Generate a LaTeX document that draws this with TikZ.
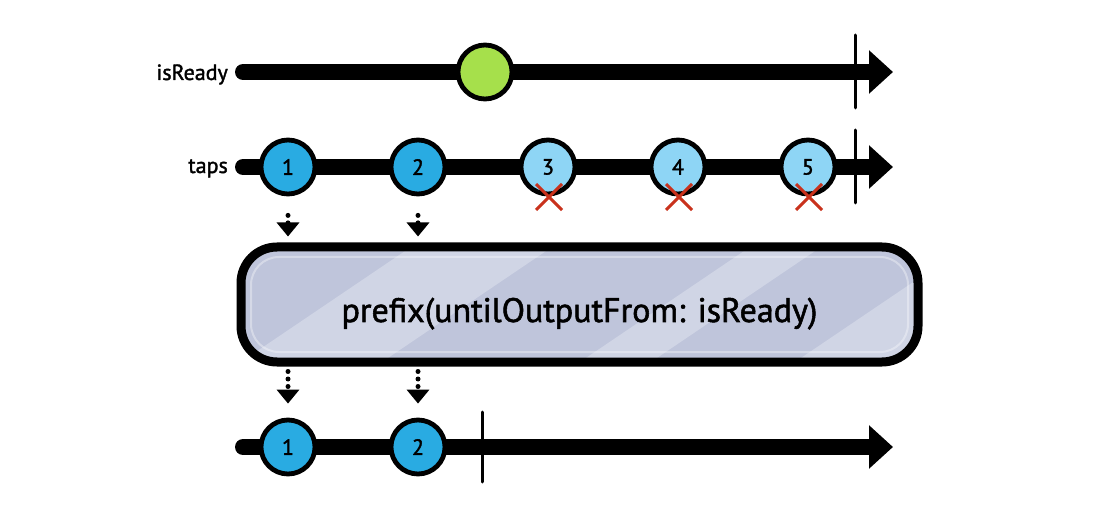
\documentclass[tikz,border=0pt]{standalone}
\usepackage{fontspec}
\setmainfont{PT Sans}[FakeBold=1.6,BoldFont={PT Sans}]
\usetikzlibrary{arrows.meta}
\definecolor{marbleDark}{HTML}{29ABE2}
\definecolor{marbleLight}{HTML}{8ED5F5}
\definecolor{marbleGreen}{HTML}{A6E04B}
\definecolor{xred}{HTML}{C9321D}
\definecolor{boxBase}{HTML}{BFC5DB}
\definecolor{boxLight}{HTML}{D0D5E5}
\begin{document}
\begin{tikzpicture}[x=1pt,y=-1pt,
  timeline/.style={line width=16pt, line cap=round, -{Triangle[width=42pt,length=24pt]}},
  tickmark/.style={line width=3pt, line cap=round},
  marble/.style={circle, draw=black, line width=4.8pt, minimum size=54pt, inner sep=0pt, font=\fontsize{22}{22}\selectfont\bfseries},
  emitted/.style={marble, fill=marbleDark},
  dropped/.style={marble, fill=marbleLight},
  flow/.style={line width=5pt, line cap=round, dash pattern=on 0pt off 7.5pt, -{Triangle[width=22pt,length=14pt]}},
  xmark/.style={draw=xred, line width=3pt},
  streamlabel/.style={anchor=base east, inner sep=0pt, font=\fontsize{22}{22}\selectfont\bfseries},
  opbox/.style={draw=black, line width=9pt, rounded corners=36pt, minimum width=677pt, minimum height=115pt, inner sep=0pt, text height=40pt, text depth=5pt, font=\fontsize{34}{34}\selectfont\bfseries}
]
\useasboundingbox (0,0) rectangle (1094,510);

% ---------- isReady ----------
\coordinate (r0) at (243,72);
\coordinate (r1) at (893,72);
\node[streamlabel] (lready) at (228,80) {isReady};
\draw[timeline] (r0) -- (r1);
\draw[tickmark] (855,35) -- (855,108);
\node[marble, fill=marbleGreen] (g1) at (485,72) {};

% ---------- taps ----------
\coordinate (t0) at (243,167);
\coordinate (tend) at (893,167);
\node[streamlabel] (ltaps) at (228,173) {taps};
\draw[timeline] (t0) -- (tend);
\draw[tickmark] (855,130) -- (855,203);
\node[emitted] (t1) at (288,167) {1};
\node[emitted] (t2) at (418,167) {2};
\node[dropped] (t3) at (548,167) {3};
\node[dropped] (t4) at (678,167) {4};
\node[dropped] (t5) at (808,167) {5};
\foreach \n in {t3,t4,t5}{
  \draw[xmark] ([shift={(-12,17)}]\n.center) -- ([shift={(14,43)}]\n.center);
  \draw[xmark] ([shift={(-12,43)}]\n.center) -- ([shift={(14,17)}]\n.center);
}

% ---------- operator box ----------
\begin{scope}
  \clip[rounded corners=36pt] (241,247) rectangle (918,362);
  \fill[boxBase] (241,247) rectangle (918,362);
  \fill[boxLight] (411,247) -- (552,247) -- (382,362) -- (241,362) -- cycle;
  \fill[boxLight] (750,247) -- (821,247) -- (651,362) -- (580,362) -- cycle;
  \fill[boxLight] (965,247) -- (1060,247) -- (890,362) -- (795,362) -- cycle;
  \draw[white, opacity=0.35, line width=2pt, rounded corners=28pt] (251,257) rectangle (908,352);
\end{scope}
\node[opbox] (op) at (579.5,304.5) {prefix(untilOutputFrom: isReady)};

\draw[flow, shorten <=19pt, shorten >=6pt] (t1.south) -- (t1.south |- op.north);
\draw[flow, shorten <=19pt, shorten >=6pt] (t2.south) -- (t2.south |- op.north);

% ---------- output ----------
\coordinate (o0) at (243,447);
\coordinate (oend) at (893,447);
\draw[timeline] (o0) -- (oend);
\draw[tickmark] (482,412) -- (482,482);
\node[emitted] (o1) at (288,447) {1};
\node[emitted] (o2) at (418,447) {2};

\draw[flow, shorten <=5pt, shorten >=14pt] (op.south -| o1) -- (o1.north);
\draw[flow, shorten <=5pt, shorten >=14pt] (op.south -| o2) -- (o2.north);
\end{tikzpicture}
\end{document}
